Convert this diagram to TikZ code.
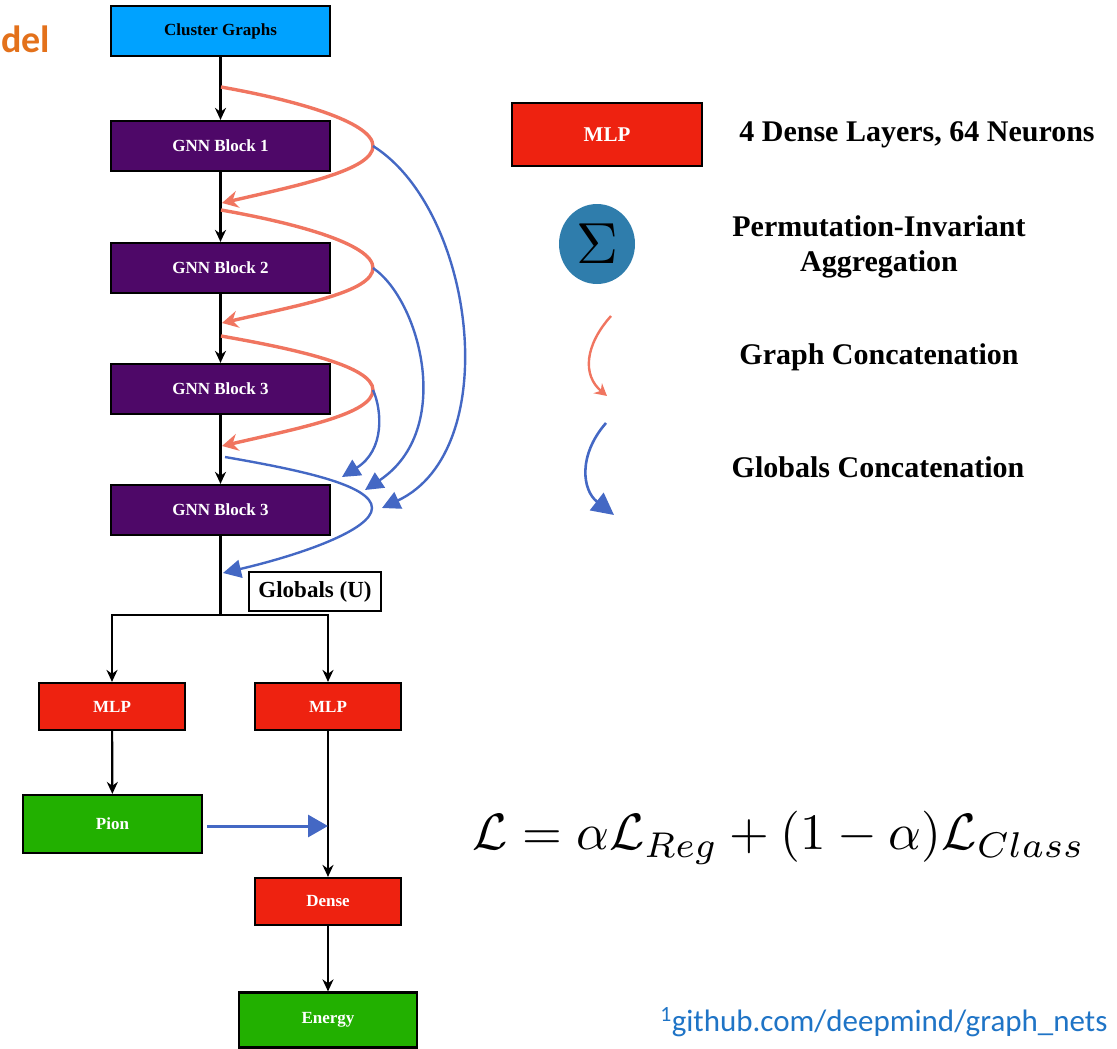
\documentclass[tikz,border=0pt]{standalone}
\usepackage{fontspec}
\setmainfont{Liberation Serif}
\newfontfamily\calibri{Carlito}
\usepackage{graphicx}
\usepackage{tikz}
\usetikzlibrary{arrows.meta,calc,shapes.geometric}
\definecolor{skyb}{HTML}{00A2FF}
\definecolor{gnnpurple}{HTML}{4E0868}
\definecolor{mlpred}{HTML}{EE2210}
\definecolor{outgreen}{HTML}{22B000}
\definecolor{salmon}{HTML}{F07560}
\definecolor{globblue}{HTML}{4468C4}
\definecolor{sumblue}{HTML}{2F7DAC}
\definecolor{ghblue}{HTML}{1F74C6}
\definecolor{titleorange}{HTML}{E3711B}
\tikzset{
  box/.style={draw=black, line width=2.2pt, minimum width=219pt, minimum height=50pt,
    inner sep=0pt, text=white, font=\bfseries\fontsize{17}{17}\selectfont},
  small/.style={box, minimum width=146pt, minimum height=47pt},
  flow/.style={line width=2.2pt, -{Stealth[length=12pt,width=11pt]}},
  gcat/.style={draw=salmon, line width=3.4pt, -{Stealth[length=16pt,width=17pt]}},
  ucat/.style={draw=globblue, line width=2.4pt, -{Triangle[length=18pt,width=18pt]}},
  legend/.style={font=\bfseries\fontsize{30}{35}\selectfont, align=center},
}
\begin{document}
\begin{tikzpicture}[x=1pt,y=-1pt]
  \useasboundingbox (0,0) rectangle (1117,1049);

  \node[anchor=base west, inner sep=0pt, text=titleorange, font=\calibri\bfseries\fontsize{38}{38}\selectfont] (ttl) at (1,53) {del};

  \node[box, fill=skyb, text=black] (cg) at (220.5,31) {Cluster Graphs};
  \foreach \n/\y/\t in {g1/146/GNN Block 1, g2/268/GNN Block 2, g3/389/GNN Block 3, g4/510/GNN Block 3}
    \node[box, fill=gnnpurple] (\n) at (220.5,\y) {\t};
  \node[draw, line width=1.8pt, minimum width=132pt, minimum height=39pt, inner sep=0pt,
    font=\bfseries\fontsize{23}{23}\selectfont] (glob) at (315,591.5) {Globals (U)};
  \node[small, fill=mlpred] (mlpa) at (112,706.5) {MLP};
  \node[small, fill=mlpred] (mlpb) at (328,706.5) {MLP};
  \node[box, fill=outgreen, minimum width=179pt, minimum height=58pt] (pion) at (112.5,824) {Pion};
  \node[small, fill=mlpred] (dense) at (328,901.5) {Dense};
  \node[box, fill=outgreen, minimum width=178pt, minimum height=55pt] (energy) at (328,1020) {Energy};

  \draw[flow] (cg) -- (g1);
  \draw[flow] (g1) -- (g2);
  \draw[flow] (g2) -- (g3);
  \draw[flow] (g3) -- (g4);
  \coordinate (split) at (220.5,615);
  \draw[line width=2.2pt] (g4) -- (split);
  \draw[flow] (split) -| (mlpa);
  \draw[flow] (split) -| (mlpb);
  \draw[flow] (mlpa) -- (pion);
  \draw[flow] (mlpb) -- (dense);
  \draw[flow] (dense) -- (energy);
  \draw[ucat, line width=3pt, -{Triangle[length=20pt,width=22pt]}] (pion.east) ++(4,2) -- ($(pion.east -| mlpb)+(0,2)$);

  \foreach \i/\ys/\yr/\ye in {1/87/146/203, 2/210/268/323, 3/336/390/446} {
    \coordinate (gs\i) at (221,\ys);
    \coordinate (gr\i) at (373,\yr);
    \coordinate (ge\i) at (222,\ye);
    \draw[gcat] (gs\i) .. controls (295,\ys+13) and (373,\yr-24) .. (gr\i)
      .. controls (373,\yr+24) and (300,\ye-18) .. (ge\i);
  }
  \coordinate (ut1) at (382,508);
  \coordinate (ut2) at (365,490);
  \coordinate (ut3) at (342,477);
  \draw[ucat] (gr1) .. controls (475,210) and (505,450) .. (ut1);
  \draw[ucat] (gr2) .. controls (420,300) and (455,430) .. (ut2);
  \draw[ucat] (gr3) .. controls (382,410) and (385,450) .. (ut3);
  \coordinate (us4) at (225,457);
  \coordinate (ur4) at (372,508);
  \coordinate (ue4) at (223,573);
  \draw[ucat] (us4) .. controls (300,470) and (372,485) .. (ur4)
    .. controls (372,530) and (300,555) .. (ue4);

  \node[box, fill=mlpred, line width=2.6pt, minimum width=190pt, minimum height=63pt, font=\bfseries\fontsize{21}{21}\selectfont] (lmlp) at (607,134.5) {MLP};
  \node[legend] (tmlp) at (917,135) {4 Dense Layers, 64 Neurons};
  \node[ellipse, fill=sumblue, minimum width=76pt, minimum height=80pt, inner sep=0pt] (lsum) at (597,244) {};
  \node[scale=5.8] at (lsum) {$\Sigma$};
  \node[legend] (tsum) at (879,247) {Permutation-Invariant\\Aggregation};
  \coordinate (lgs) at (611,316);
  \coordinate (lge) at (607,396);
  \draw[draw=salmon, line width=2.4pt, -{Stealth[length=12pt,width=13pt]}] (lgs) .. controls (585,345) and (582,375) .. (lge);
  \node[legend] (tgc) at (879,357) {Graph Concatenation};
  \coordinate (lus) at (606,423);
  \coordinate (lue) at (614,515);
  \draw[ucat, line width=2.6pt, -{Triangle[length=22pt,width=22pt]}] (lus) .. controls (578,455) and (582,490) .. (lue);
  \node[legend] (tuc) at (878,467) {Globals Concatenation};

  \node (loss) at (779,838)
    {\resizebox{612pt}{!}{$\mathcal{L}=\alpha\mathcal{L}_{Reg}+(1-\alpha)\mathcal{L}_{Class}$}};
  \node[anchor=base east, text=ghblue, font=\calibri\fontsize{31}{31}\selectfont] (src) at (1111,1031)
    {\textsuperscript{1}github.com/deepmind/graph\_nets};
\end{tikzpicture}
\end{document}
